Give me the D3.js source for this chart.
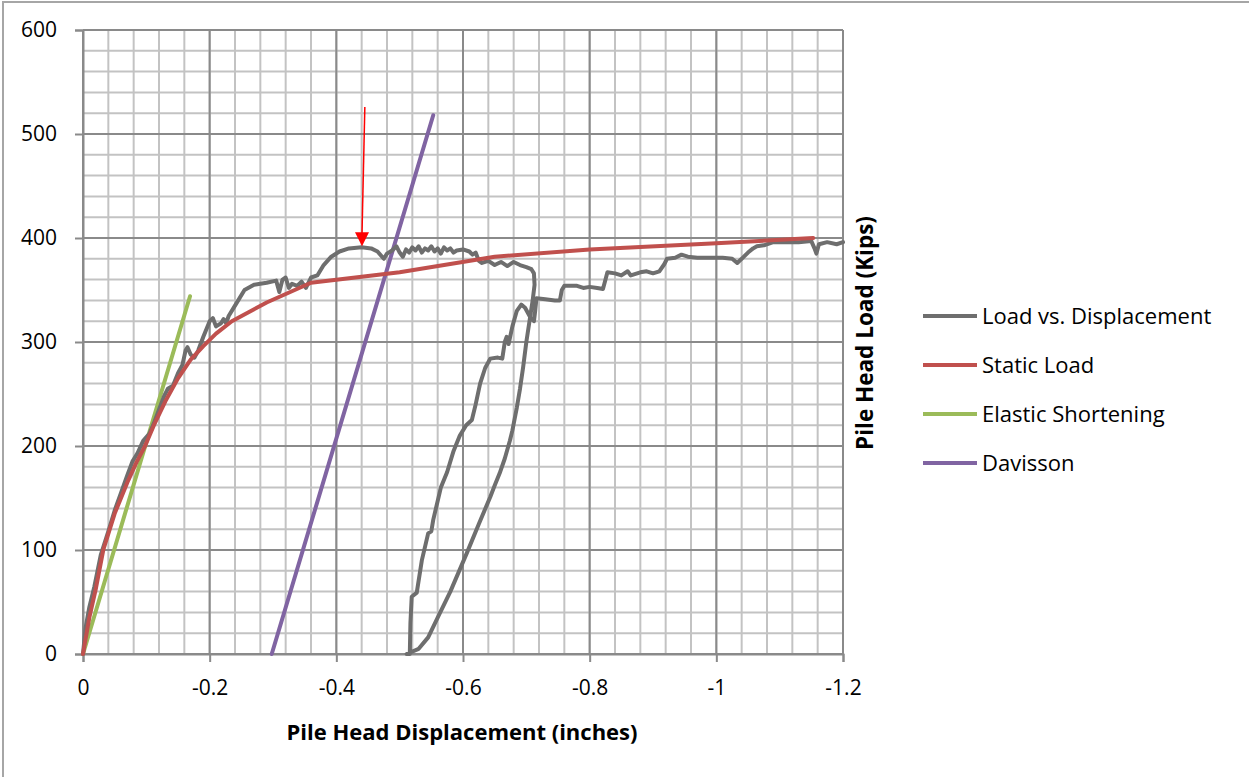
<!DOCTYPE html>
<html>
<head>
<meta charset="utf-8">
<script src="https://cdn.jsdelivr.net/npm/d3@7"></script>
<style>
  body { margin: 0; background: #fff; }
  svg { display: block; font-family: "Open Sans", Lato, sans-serif; }
</style>
</head>
<body>
<svg id="chart" width="1249" height="777"></svg>
<script>
// x = pile head displacement (inches), y = pile head load (kips)
const loadVsDisplacement = [
  [0,0],[-0.004,25],[-0.01,45],[-0.018,65],[-0.028,95],[-0.04,118],[-0.05,138],[-0.06,155],
  [-0.07,172],[-0.078,185],[-0.086,193],[-0.095,205],[-0.105,212],[-0.112,222],[-0.12,235],
  [-0.128,248],[-0.134,255],[-0.142,258],[-0.15,270],[-0.157,278],[-0.162,292],[-0.165,295],
  [-0.17,288],[-0.176,285],[-0.182,292],[-0.19,305],[-0.2,320],[-0.205,323],[-0.21,315],
  [-0.218,318],[-0.222,322],[-0.226,318],[-0.23,325],[-0.24,335],[-0.255,350],[-0.27,355],
  [-0.29,357],[-0.305,359],[-0.31,348],[-0.315,360],[-0.32,362],[-0.325,352],[-0.33,356],
  [-0.338,354],[-0.345,358],[-0.352,352],[-0.36,362],[-0.37,364],[-0.38,374],[-0.392,382],
  [-0.405,387],[-0.42,390],[-0.44,391],[-0.455,390],[-0.465,387],[-0.475,380],[-0.48,385],
  [-0.488,388],[-0.495,392],[-0.5,386],[-0.505,382],[-0.51,389],[-0.515,386],[-0.52,391],
  [-0.525,388],[-0.53,392],[-0.535,386],[-0.54,390],[-0.545,388],[-0.55,392],[-0.555,387],
  [-0.56,390],[-0.565,385],[-0.57,391],[-0.575,388],[-0.58,390],[-0.585,386],[-0.59,388],
  [-0.6,389],[-0.61,387],[-0.615,384],[-0.62,386],[-0.625,378],[-0.63,376],[-0.64,378],
  [-0.65,374],[-0.66,377],[-0.67,373],[-0.68,377],[-0.69,374],[-0.7,372],[-0.708,370],
  [-0.712,366],
  // unloading
  [-0.713,355],[-0.71,340],[-0.706,324],[-0.7,300],[-0.695,276],[-0.69,255],[-0.685,237],
  [-0.678,215],[-0.674,205],[-0.666,188],[-0.658,174],[-0.65,162],[-0.643,151],[-0.625,125],
  [-0.606,97],[-0.58,60],[-0.56,35],[-0.545,16],[-0.53,5],[-0.511,0],
  // reloading
  [-0.516,0],[-0.517,30],[-0.519,55],[-0.527,59],[-0.535,90],[-0.545,116],[-0.55,118],
  [-0.553,129],[-0.565,160],[-0.575,175],[-0.585,195],[-0.595,210],[-0.605,220],[-0.614,225],
  [-0.62,240],[-0.627,260],[-0.635,275],[-0.643,284],[-0.655,285],[-0.662,284],[-0.666,300],
  [-0.669,305],[-0.672,298],[-0.678,315],[-0.685,330],[-0.692,336],[-0.698,333],[-0.706,324],
  [-0.712,320],[-0.714,330],[-0.716,342],[-0.73,341],[-0.745,340],[-0.753,340],[-0.756,350],
  [-0.76,354],[-0.78,354],[-0.79,352],[-0.8,353],[-0.812,352],[-0.821,351],[-0.825,360],
  [-0.828,367],[-0.84,366],[-0.85,364],[-0.86,368],[-0.865,364],[-0.88,367],[-0.89,368],
  [-0.9,366],[-0.91,368],[-0.918,375],[-0.922,380],[-0.935,381],[-0.945,384],[-0.955,382],
  [-0.97,381],[-0.99,381],[-1.01,381],[-1.025,380],[-1.033,376],[-1.04,380],[-1.05,386],
  [-1.058,390],[-1.064,392],[-1.075,393],[-1.09,396],[-1.11,396],[-1.13,396],[-1.15,397],
  [-1.155,390],[-1.158,385],[-1.162,394],[-1.175,396],[-1.19,394],[-1.2,396]
];
const staticLoad = [
  [0,0],[-0.01,35],[-0.02,62],[-0.032,100],[-0.05,135],[-0.07,165],[-0.085,185],[-0.098,200],
  [-0.112,220],[-0.13,243],[-0.15,265],[-0.17,283],[-0.19,296],[-0.21,308],[-0.235,320],
  [-0.29,338],[-0.36,357],[-0.5,367],[-0.65,382],[-0.8,389],[-1.0,395],[-1.153,400]
];
const elasticShortening = [[0,0],[-0.169,344]];
const davisson = [[-0.298,0],[-0.553,518]];

const xTicks = [0,-0.2,-0.4,-0.6,-0.8,-1,-1.2];
const yTicks = [0,100,200,300,400,500,600];
const legendNames = ["Load vs. Displacement","Static Load","Elastic Shortening","Davisson"];
// arrow annotation: [tail, tip]
const arrowPoints = [[-0.445,526],[-0.4405,392]];

const svg = d3.select("#chart");
const L = 83, R = 843, T = 30, B = 654;

const x = d3.scaleLinear().domain([0,-1.2]).range([L,R]);
const y = d3.scaleLinear().domain([0,600]).range([B,T]);

// outer chart frame
svg.append("rect").attr("x",3).attr("y",2).attr("width",1400).attr("height",900)
  .attr("fill","none").attr("stroke","#a6a6a6").attr("stroke-width",2);

// grid
const g = svg.append("g");
const xMinor = d3.range(0,31).map(i => -i*0.04);
const yMinor = d3.range(0,31).map(i => i*20);
g.selectAll(".vx").data(xMinor).enter().append("line")
  .attr("x1",d=>x(d)).attr("x2",d=>x(d)).attr("y1",T).attr("y2",B)
  .attr("stroke","#c3c3c3").attr("stroke-width",2);
g.selectAll(".hy").data(yMinor).enter().append("line")
  .attr("x1",L).attr("x2",R).attr("y1",d=>y(d)).attr("y2",d=>y(d))
  .attr("stroke","#c3c3c3").attr("stroke-width",2);
g.selectAll(".vxm").data(xTicks).enter().append("line")
  .attr("x1",d=>x(d)).attr("x2",d=>x(d)).attr("y1",T).attr("y2",B)
  .attr("stroke","#8a8a8a").attr("stroke-width",2);
g.selectAll(".hym").data(yTicks).enter().append("line")
  .attr("x1",L).attr("x2",R).attr("y1",d=>y(d)).attr("y2",d=>y(d))
  .attr("stroke","#8a8a8a").attr("stroke-width",2);

// axes
const xAxis = svg.append("g").attr("transform","translate(0,"+B+")")
  .call(d3.axisBottom(x).tickValues(xTicks).tickSize(8).tickPadding(18)
    .tickFormat(d => d === 0 ? "0" : String(d)));
const yAxis = svg.append("g").attr("transform","translate("+L+",0)")
  .call(d3.axisLeft(y).tickValues(yTicks).tickSize(8).tickPadding(18));
[xAxis,yAxis].forEach(a => {
  a.select(".domain").attr("stroke","#8a8a8a").attr("stroke-width",2);
  a.selectAll(".tick line").attr("stroke","#8a8a8a").attr("stroke-width",2);
  a.selectAll(".tick text").attr("fill","#000").style("font-size","21px")
    .style("font-family","'Open Sans', Lato, sans-serif");
});

// series
const line = d3.line().x(d=>x(d[0])).y(d=>y(d[1]));
const series = [
  {data: loadVsDisplacement, color: "#6e6e6e"},
  {data: staticLoad, color: "#c0504d"},
  {data: elasticShortening, color: "#9bbb59"},
  {data: davisson, color: "#8064a2"}
];
// draw order: davisson and elastic first, then gray, then red on top
[2,3,0,1].forEach(i => {
  svg.append("path").datum(series[i].data).attr("d",line)
    .attr("fill","none").attr("stroke",series[i].color).attr("stroke-width",4)
    .attr("stroke-linejoin","round").attr("stroke-linecap","round");
});

// arrow annotation
const tail = arrowPoints[0], tip = arrowPoints[1];
const tx = x(tip[0]), ty = y(tip[1]);
svg.append("line").attr("x1",x(tail[0])).attr("y1",y(tail[1]))
  .attr("x2",tx).attr("y2",ty-12).attr("stroke","#ff0000").attr("stroke-width",1.5);
svg.append("path")
  .attr("d","M"+(tx-7)+","+(ty-14)+"L"+(tx+7)+","+(ty-14)+"L"+tx+","+ty+"Z")
  .attr("fill","#ff0000");

// axis titles
svg.append("text").attr("x",462).attr("y",740).attr("text-anchor","middle")
  .style("font-size","22px").style("font-weight","bold").text("Pile Head Displacement (inches)");
svg.append("text").attr("transform","translate(873,333) rotate(-90)").attr("text-anchor","middle")
  .style("font-size","22.5px").style("font-weight","bold").text("Pile Head Load (Kips)");

// legend
const legend = svg.append("g").attr("transform","translate(923,316)");
legendNames.forEach((name,i) => {
  const row = legend.append("g").attr("transform","translate(0,"+(i*49)+")");
  row.append("line").attr("x1",0).attr("x2",54).attr("y1",0).attr("y2",0)
    .attr("stroke",series[i].color).attr("stroke-width",4);
  row.append("text").attr("x",59).attr("y",8).style("font-size","22px").attr("fill","#000").text(name);
});
</script>
</body>
</html>
